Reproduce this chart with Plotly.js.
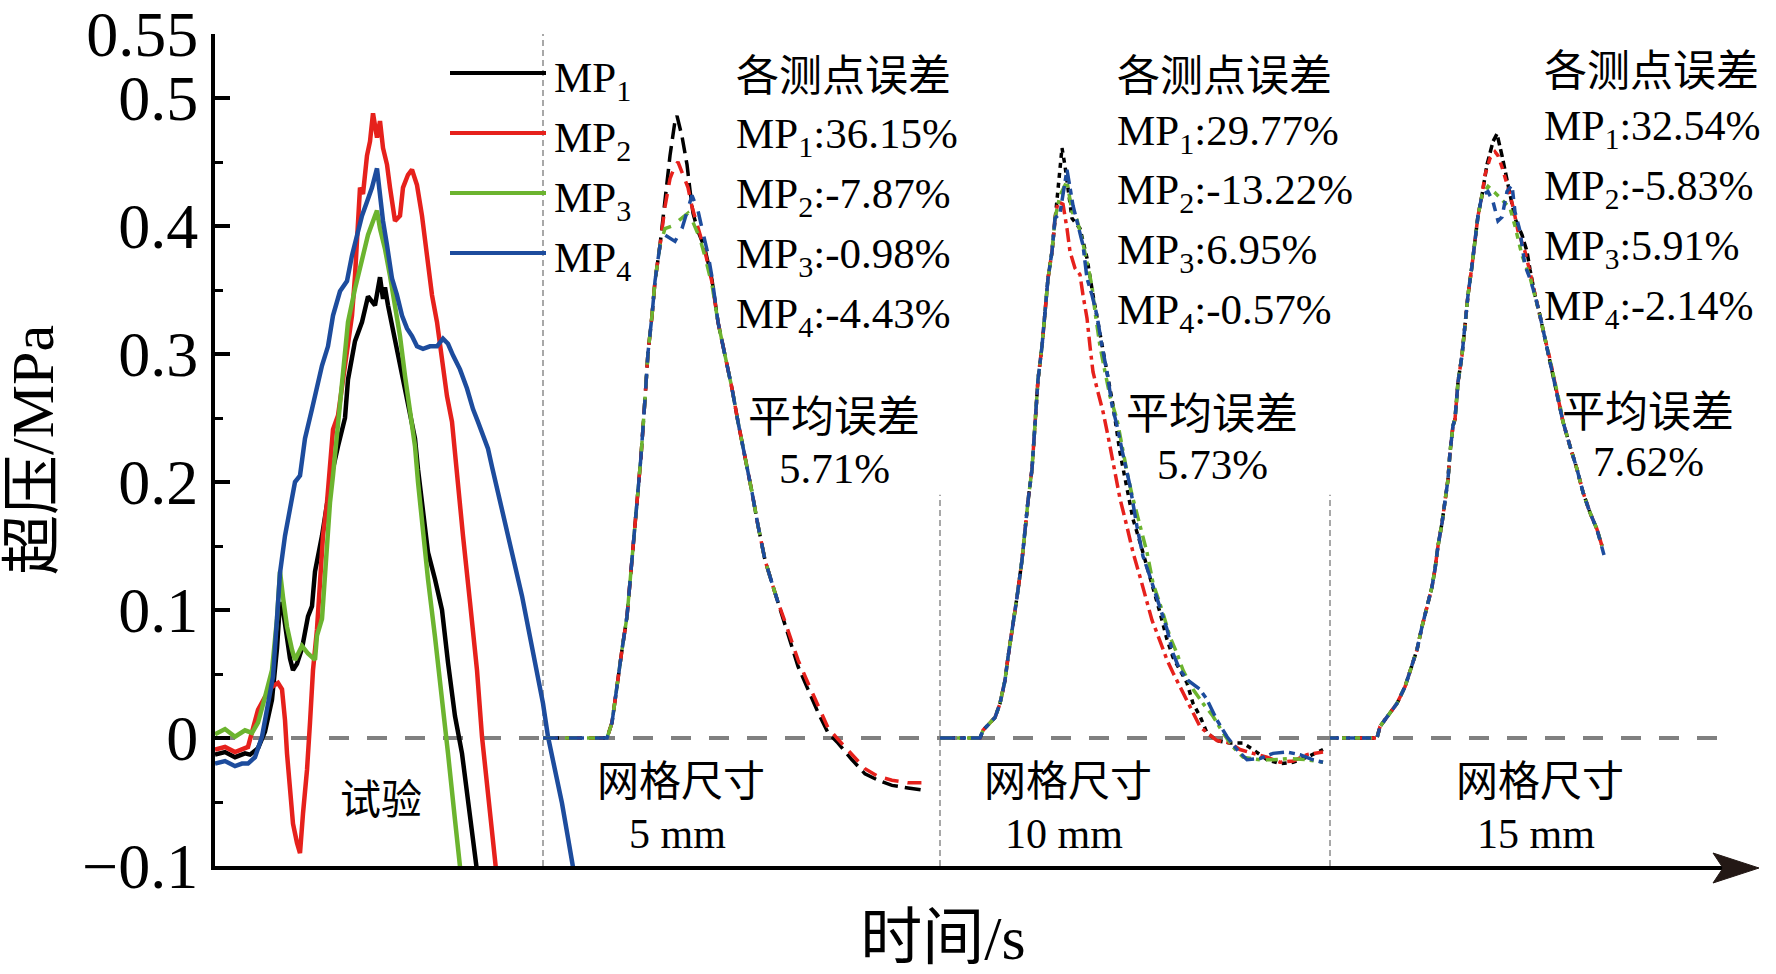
<!DOCTYPE html>
<html>
<head>
<meta charset="utf-8">
<script src="https://cdn.plot.ly/plotly-3.0.1.min.js"></script>
<style>
  html, body { margin: 0; padding: 0; background: #fff; }
  #chart { width: 1776px; height: 974px; }
</style>
</head>
<body>
<div id="chart"></div>
<script>
// ---- test (试验) records, time in arbitrary units ----
var testT_MP1 = [0, 1, 2, 3, 3.5, 4.3, 5.0, 5.7, 6.2, 6.5, 6.8, 7.2, 7.5, 7.8, 8.2, 8.7, 9.0, 9.3, 9.7, 10.0, 10.7, 11.3, 11.7, 12.3, 13.0, 13.3, 14.0, 14.7, 15.3, 16.0, 16.3, 16.5, 16.8, 17.0, 17.3, 18.0, 18.5, 19.2, 20.0, 20.3, 21.3, 22.0, 22.7, 23.3, 24.0, 24.7, 25.3, 26.0, 26.3];
var testV_MP1 = [-0.013, -0.011, -0.015, -0.012, -0.013, -0.008, 0.005, 0.03, 0.07, 0.106, 0.1, 0.075, 0.062, 0.053, 0.058, 0.07, 0.085, 0.095, 0.103, 0.13, 0.158, 0.19, 0.207, 0.228, 0.25, 0.28, 0.31, 0.325, 0.345, 0.338, 0.352, 0.36, 0.343, 0.352, 0.338, 0.31, 0.29, 0.265, 0.234, 0.21, 0.145, 0.124, 0.1, 0.059, 0.017, -0.012, -0.051, -0.096, -0.11];

var testT_MP2 = [0, 1, 2, 3, 3.3, 4.3, 5.0, 5.7, 6.3, 6.7, 7.0, 7.2, 7.5, 7.8, 8.2, 8.5, 8.8, 9.2, 9.5, 9.8, 10.2, 10.5, 10.8, 11.2, 11.5, 11.8, 12.3, 12.8, 13.3, 13.7, 14.0, 14.5, 14.8, 15.2, 15.5, 15.8, 16.2, 16.5, 16.8, 17.2, 17.5, 18.0, 18.5, 18.8, 19.3, 19.7, 20.2, 20.7, 21.2, 21.7, 22.2, 22.7, 23.2, 23.7, 24.0, 24.3, 24.8, 25.5, 26.2, 26.7, 27.2, 27.7, 28.0, 28.2];
var testV_MP2 = [-0.009, -0.007, -0.011, -0.008, -0.007, 0.022, 0.032, 0.04, 0.043, 0.038, 0.014, -0.012, -0.041, -0.067, -0.082, -0.09, -0.059, -0.025, 0.012, 0.053, 0.085, 0.118, 0.158, 0.184, 0.208, 0.241, 0.252, 0.278, 0.306, 0.33, 0.361, 0.43, 0.425, 0.455, 0.466, 0.488, 0.469, 0.482, 0.461, 0.448, 0.43, 0.404, 0.408, 0.43, 0.44, 0.444, 0.432, 0.408, 0.377, 0.346, 0.325, 0.294, 0.267, 0.247, 0.22, 0.194, 0.158, 0.106, 0.053, 0.001, -0.038, -0.078, -0.101, -0.11];

var testT_MP3 = [0, 1, 2, 3, 3.7, 4.3, 5.0, 5.7, 6.2, 6.5, 6.8, 7.2, 7.7, 8.0, 8.7, 9.3, 10.0, 10.2, 10.7, 11.0, 11.5, 11.8, 12.3, 12.8, 13.3, 14.0, 14.7, 15.3, 16.0, 16.2, 16.5, 17.0, 17.5, 18.0, 18.5, 19.0, 19.5, 20.0, 20.3, 20.8, 21.3, 22.0, 22.7, 23.3, 24.0, 24.5, 24.7];
var testV_MP3 = [0.003, 0.007, 0.001, 0.006, 0.004, 0.012, 0.032, 0.053, 0.093, 0.13, 0.11, 0.087, 0.069, 0.061, 0.072, 0.066, 0.061, 0.08, 0.093, 0.132, 0.184, 0.205, 0.247, 0.29, 0.325, 0.351, 0.372, 0.393, 0.408, 0.412, 0.398, 0.382, 0.361, 0.338, 0.314, 0.283, 0.257, 0.228, 0.2, 0.158, 0.124, 0.079, 0.032, -0.012, -0.064, -0.101, -0.115];

var testT_MP4 = [0, 1, 2, 2.7, 3.3, 4.0, 4.7, 5.3, 5.8, 6.2, 6.5, 7.0, 7.5, 8.0, 8.5, 9.0, 9.7, 10.2, 10.7, 11.3, 11.8, 12.5, 13.2, 13.7, 14.2, 14.7, 15.2, 15.7, 16.2, 16.5, 16.8, 17.2, 17.7, 18.2, 18.7, 19.2, 19.7, 20.2, 20.8, 21.5, 22.2, 22.8, 23.3, 23.8, 24.5, 25.2, 25.8, 26.3, 26.8, 27.3, 27.7, 28.7, 29.3, 30.0, 30.7, 31.5, 32.2, 32.8, 33.3, 34.0, 34.7, 35.3, 35.8, 36.0];
var testV_MP4 = [-0.02, -0.018, -0.022, -0.02, -0.02, -0.015, 0.001, 0.027, 0.048, 0.093, 0.129, 0.158, 0.179, 0.2, 0.205, 0.234, 0.257, 0.273, 0.291, 0.306, 0.33, 0.349, 0.357, 0.377, 0.393, 0.408, 0.419, 0.43, 0.445, 0.424, 0.404, 0.385, 0.359, 0.346, 0.33, 0.32, 0.314, 0.306, 0.304, 0.306, 0.306, 0.312, 0.308, 0.299, 0.288, 0.273, 0.257, 0.247, 0.236, 0.226, 0.212, 0.179, 0.158, 0.137, 0.111, 0.079, 0.053, 0.027, 0.001, -0.025, -0.051, -0.078, -0.101, -0.11];

// ---- mesh 5 mm ----
var rise5T = [32.8, 36, 39.2, 39.7, 40.2, 40.7, 41.2, 41.5, 41.8, 42.2, 42.6, 43.0, 43.3, 43.7, 44.0, 44.5];
var rise5V = [0, 0, 0, 0.012, 0.043, 0.069, 0.095, 0.121, 0.147, 0.187, 0.22, 0.265, 0.301, 0.33, 0.357, 0.385];
var peak5T_MP1 = [45.0, 45.5, 46.0, 46.2, 46.7, 47.2, 47.5, 47.8, 48.3, 49.0, 49.7];
var peak5V_MP1 = [0.422, 0.455, 0.482, 0.486, 0.47, 0.448, 0.428, 0.41, 0.396, 0.382, 0.358];
var peak5T_MP2 = [45.0, 45.5, 46.0, 46.3, 46.8, 47.3, 47.7, 48.3, 49.0, 49.7];
var peak5V_MP2 = [0.415, 0.437, 0.447, 0.45, 0.44, 0.43, 0.415, 0.398, 0.38, 0.356];
var peak5T_MP3 = [45.0, 45.7, 46.3, 47.3, 47.8, 48.5, 49.0, 49.7];
var peak5V_MP3 = [0.398, 0.4, 0.404, 0.41, 0.403, 0.39, 0.376, 0.354];
var peak5T_MP4 = [45.0, 46.0, 46.7, 47.7, 48.3, 48.7, 49.3, 49.7];
var peak5V_MP4 = [0.393, 0.388, 0.398, 0.424, 0.412, 0.398, 0.378, 0.36];
var fall5T = [50.3, 51.0, 51.7, 52.3, 53.0, 53.7, 54.3, 55.0, 55.7, 56.3];
var fall5V = [0.325, 0.299, 0.273, 0.247, 0.22, 0.192, 0.166, 0.139, 0.121, 0.106];
var tail5T = [57.0, 57.7, 58.3, 59.3, 60.3, 61.3, 62.3, 63.7, 65.0, 66.3, 67.7, 69.3, 71.0];
var tail5V_MP1 = [0.087, 0.069, 0.056, 0.038, 0.02, 0.004, -0.004, -0.017, -0.028, -0.033, -0.037, -0.039, -0.041];
var tail5V_MP2 = [0.091, 0.074, 0.061, 0.043, 0.025, 0.008, -0.001, -0.013, -0.024, -0.03, -0.033, -0.035, -0.035];

// ---- mesh 10 mm ----
var rise10T = [72.5, 76.5, 76.8, 78.0, 78.5, 79.0, 79.3, 79.8, 80.2, 80.7, 81.0, 81.3, 81.7, 82.0, 82.3, 82.7, 83.0, 83.3, 83.7, 84.0];
var rise10V = [0, 0, 0.006, 0.016, 0.027, 0.045, 0.063, 0.087, 0.11, 0.139, 0.165, 0.185, 0.21, 0.249, 0.28, 0.306, 0.333, 0.359, 0.38, 0.406];
var after10T_MP1 = [84.3, 84.7, 85.0, 85.3, 85.7, 86.5, 87.2, 87.8, 88.5, 89.2, 89.8, 90.5, 91.2, 91.8, 92.5, 93.2, 93.8, 94.5, 95.2, 95.8, 96.5, 97.2, 97.8, 98.5, 99.2, 100.2, 101.5, 102.8, 103.8, 105.2, 106.5, 107.8, 109.2, 110.8];
var after10V_MP1 = [0.43, 0.461, 0.447, 0.43, 0.406, 0.398, 0.375, 0.346, 0.317, 0.286, 0.26, 0.223, 0.194, 0.171, 0.153, 0.134, 0.116, 0.098, 0.077, 0.063, 0.053, 0.043, 0.027, 0.017, 0.004, -0.002, -0.004, -0.004, -0.009, -0.017, -0.02, -0.019, -0.015, -0.009];
var after10T_MP2 = [84.3, 84.8, 85.2, 85.5, 86.0, 86.5, 86.8, 87.2, 87.5, 87.8, 88.3, 88.8, 89.3, 89.8, 90.5, 91.2, 91.8, 92.5, 93.2, 93.7, 94.2, 94.7, 95.2, 95.8, 96.5, 97.2, 97.8, 98.5, 99.2, 100.2, 101.5, 102.5, 103.8, 105.2, 106.5, 107.8, 109.2, 110.8];
var after10V_MP2 = [0.419, 0.417, 0.398, 0.38, 0.367, 0.362, 0.346, 0.328, 0.306, 0.286, 0.27, 0.255, 0.236, 0.215, 0.187, 0.165, 0.145, 0.126, 0.106, 0.092, 0.082, 0.071, 0.061, 0.051, 0.04, 0.03, 0.02, 0.009, 0.004, -0.002, -0.004, -0.009, -0.012, -0.015, -0.019, -0.018, -0.013, -0.011];
var after10T_MP3 = [84.5, 85.2, 85.7, 86.2, 86.7, 87.2, 87.7, 88.0, 88.5, 89.0, 89.5, 90.2, 90.7, 91.2, 91.7, 92.3, 93.2, 93.8, 94.7, 95.5, 96.2, 96.8, 97.8, 98.8, 99.8, 100.8, 101.8, 102.8, 104.5, 105.8, 107.5, 109.2, 110.8];
var after10V_MP3 = [0.424, 0.435, 0.411, 0.405, 0.39, 0.372, 0.353, 0.333, 0.306, 0.286, 0.267, 0.249, 0.228, 0.208, 0.19, 0.171, 0.145, 0.121, 0.1, 0.079, 0.066, 0.053, 0.038, 0.027, 0.017, 0.004, -0.007, -0.015, -0.017, -0.017, -0.016, -0.017, -0.019];
var after10T_MP4 = [84.5, 85.2, 85.5, 85.8, 86.8, 87.2, 87.7, 88.2, 88.7, 89.2, 89.7, 90.2, 90.7, 91.5, 92.2, 92.8, 93.5, 94.3, 95.2, 95.8, 96.5, 97.3, 98.5, 99.2, 100.2, 101.2, 102.2, 103.2, 104.5, 105.8, 107.2, 108.5, 109.8, 110.8];
var after10V_MP4 = [0.41, 0.444, 0.43, 0.416, 0.385, 0.359, 0.346, 0.33, 0.306, 0.286, 0.26, 0.244, 0.225, 0.197, 0.165, 0.142, 0.126, 0.106, 0.085, 0.066, 0.053, 0.045, 0.038, 0.03, 0.014, 0.001, -0.009, -0.017, -0.016, -0.012, -0.011, -0.013, -0.017, -0.019];

// ---- mesh 15 mm ----
var rise15T = [111.5, 116.2, 116.5, 117.3, 118.2, 119.0, 119.7, 120.2, 120.7, 121.2, 121.7, 122.0, 122.3, 122.7, 123.0, 123.3, 123.5, 123.8, 124.0, 124.3, 124.7, 125.0, 125.3, 125.7, 126.0, 126.3, 126.7];
var rise15V = [0, 0, 0.009, 0.017, 0.027, 0.04, 0.056, 0.069, 0.087, 0.103, 0.118, 0.132, 0.15, 0.168, 0.184, 0.202, 0.223, 0.244, 0.249, 0.278, 0.299, 0.322, 0.346, 0.369, 0.39, 0.408, 0.424];
var peak15T_MP1 = [127.2, 127.8, 128.2, 128.7, 129.0, 129.5, 130.0, 130.7, 131.2, 131.5];
var peak15V_MP1 = [0.448, 0.466, 0.472, 0.455, 0.443, 0.424, 0.406, 0.393, 0.38, 0.366];
var peak15T_MP2 = [127.0, 127.5, 128.0, 128.3, 128.7, 129.3, 129.8, 130.3, 131.0, 131.5];
var peak15V_MP2 = [0.44, 0.453, 0.458, 0.455, 0.446, 0.43, 0.415, 0.396, 0.38, 0.364];
var peak15T_MP3 = [127.3, 128.0, 128.5, 129.0, 129.5, 130.0, 130.7, 131.5];
var peak15V_MP3 = [0.431, 0.426, 0.422, 0.418, 0.414, 0.4, 0.377, 0.36];
var peak15T_MP4 = [127.3, 127.8, 128.3, 128.7, 129.2, 129.7, 130.0, 130.5, 131.0, 131.5];
var peak15V_MP4 = [0.427, 0.419, 0.404, 0.407, 0.427, 0.432, 0.411, 0.396, 0.369, 0.359];
var fall15T = [132.0, 132.5, 133.0, 133.5, 134.0, 134.5, 134.8, 135.5, 136.2, 136.8, 137.5, 138.2, 138.7];
var fall15V = [0.346, 0.33, 0.312, 0.296, 0.278, 0.26, 0.247, 0.228, 0.21, 0.192, 0.176, 0.163, 0.15];

var seriesNames = ['MP1', 'MP2', 'MP3', 'MP4'];
var seriesColors = ['#000000', '#e6211c', '#6cb42f', '#1d4c9d'];
var yTickVals = [-0.1, 0, 0.1, 0.2, 0.3, 0.4, 0.5, 0.55];
var yTickText = ['\u22120.1', '0', '0.1', '0.2', '0.3', '0.4', '0.5', '0.55'];
var yMinorVals = [-0.05, 0.05, 0.15, 0.25, 0.35, 0.45];
var separatorT = [32.8, 72.5, 111.5];
var err5 = ['36.15%', '-7.87%', '-0.98%', '-4.43%'];
var err10 = ['29.77%', '-13.22%', '6.95%', '-0.57%'];
var err15 = ['32.54%', '-5.83%', '5.91%', '-2.14%'];
var avgErr = ['5.71%', '5.73%', '7.62%'];
var meshSizes = ['5 mm', '10 mm', '15 mm'];

// pixel helpers (plot area 215..1671 x 34..866)
function px(x) { return (x - 215) / 1456; }
function py(y) { return (866 - y) / 832; }

var SERIF = 'Liberation Serif, Noto Sans CJK SC, serif';

function lineTrace(xs, ys, i, dash, width) {
  return {
    x: xs, y: ys, type: 'scatter', mode: 'lines',
    name: seriesNames[i], showlegend: false, hoverinfo: 'skip',
    line: { color: seriesColors[i], width: width || 3.5, dash: dash || 'solid' }
  };
}

var traces = [];
var testT = [testT_MP1, testT_MP2, testT_MP3, testT_MP4];
var testV = [testV_MP1, testV_MP2, testV_MP3, testV_MP4];
for (var i = 0; i < 4; i++) {
  traces.push(lineTrace(testT[i], testV[i], i, 'solid', 4.5));
}

// 5 mm  (slightly different dash lengths so the colours interleave)
var dash5 = ['16px,7px', '14px,9px', '12px,10px', '15px,11px'];
traces.push(lineTrace(rise5T.concat(peak5T_MP1, fall5T, tail5T), rise5V.concat(peak5V_MP1, fall5V, tail5V_MP1), 0, dash5[0]));
traces.push(lineTrace(rise5T.concat(peak5T_MP2, fall5T, tail5T), rise5V.concat(peak5V_MP2, fall5V, tail5V_MP2), 1, dash5[1]));
traces.push(lineTrace(rise5T.concat(peak5T_MP3, fall5T), rise5V.concat(peak5V_MP3, fall5V), 2, dash5[2]));
traces.push(lineTrace(rise5T.concat(peak5T_MP4, fall5T), rise5V.concat(peak5V_MP4, fall5V), 3, dash5[3]));

// 10 mm
var after10T = [after10T_MP1, after10T_MP2, after10T_MP3, after10T_MP4];
var after10V = [after10V_MP1, after10V_MP2, after10V_MP3, after10V_MP4];
var dash10 = ['5px,5px', '14px,5px,4px,5px', '12px,5px,4px,6px', '15px,5px,6px,5px'];
for (var i = 0; i < 4; i++) {
  traces.push(lineTrace(rise10T.concat(after10T[i]), rise10V.concat(after10V[i]), i, dash10[i]));
}

// 15 mm
var peak15T = [peak15T_MP1, peak15T_MP2, peak15T_MP3, peak15T_MP4];
var peak15V = [peak15V_MP1, peak15V_MP2, peak15V_MP3, peak15V_MP4];
var dash15 = ['8px,4px', '7px,6px', '6px,6px', '9px,7px'];
for (var i = 0; i < 4; i++) {
  var ft = fall15T.slice(), fv = fall15V.slice();
  if (i === 3) { ft.push(138.9); fv.push(0.143); }
  traces.push(lineTrace(rise15T.concat(peak15T[i], ft), rise15V.concat(peak15V[i], fv), i, dash15[i]));
}

// ---- shapes ----
var shapes = [];
// zero reference line
shapes.push({ type: 'line', xref: 'paper', yref: 'y', x0: 0, x1: px(1730), y0: 0, y1: 0,
  line: { color: '#808080', width: 4, dash: '20px,18px' }, layer: 'below' });
// panel separators
separatorT.forEach(function (t, k) {
  shapes.push({ type: 'line', xref: 'x', yref: 'y', x0: t, x1: t, y0: -0.1, y1: k === 0 ? 0.55 : 0.19,
    line: { color: '#8c8c8c', width: 1.5, dash: '6px,4px' }, layer: 'below' });
});
// x axis extension + arrow head
shapes.push({ type: 'line', xref: 'paper', yref: 'paper', x0: 0.99, x1: px(1735), y0: -2 / 832, y1: -2 / 832,
  line: { color: '#000', width: 4 } });
var ay = -2 / 832;
shapes.push({ type: 'path', xref: 'paper', yref: 'paper',
  path: 'M ' + px(1759) + ' ' + ay + ' L ' + px(1713) + ' ' + (ay + 15 / 832) + ' L ' + px(1723) + ' ' + ay +
        ' L ' + px(1713) + ' ' + (ay - 15 / 832) + ' Z',
  fillcolor: '#231815', line: { color: '#231815', width: 1 } });
// legend samples
var legendY = [73, 133, 193, 253];
legendY.forEach(function (y, i) {
  shapes.push({ type: 'line', xref: 'paper', yref: 'paper', x0: px(450), x1: px(546), y0: py(y), y1: py(y),
    line: { color: seriesColors[i], width: 4 } });
});

// ---- annotations ----
var annotations = [];
function note(text, x, y, anchor, size) {
  annotations.push({ text: text, xref: 'paper', yref: 'paper', x: px(x), y: py(y),
    xanchor: anchor || 'left', yanchor: 'middle', showarrow: false, borderpad: 0,
    font: { family: SERIF, size: size || 43, color: '#000' } });
}
legendY.forEach(function (y, i) { note('MP<sub>' + (i + 1) + '</sub>', 553, y + 8); });

var groupX = [735, 1116, 1543];
var groupTitleY = [76, 76, 71];
var groupRowY = [[129, 189, 249, 309], [126, 185, 245, 305], [121, 181, 241, 301]];
var groupErr = [err5, err10, err15];
for (var g = 0; g < 3; g++) {
  note('各测点误差', groupX[g], groupTitleY[g]);
  for (var i = 0; i < 4; i++) {
    note('MP<sub>' + (i + 1) + '</sub>:' + groupErr[g][i], groupX[g], groupRowY[g][i] + 8, 'left', g === 2 ? 42 : 43);
  }
}
var avgX = [834, 1212, 1648];
var avgTitleY = [417, 414, 412];
var avgValY = [468, 464, 461];
for (var g = 0; g < 3; g++) {
  note('平均误差', avgX[g], avgTitleY[g], 'center');
  note(avgErr[g], avgX[g], avgValY[g], 'center');
}
note('试验', 381, 800, 'center', 41);
var meshX = [681, 1068, 1540];
for (var g = 0; g < 3; g++) {
  note('网格尺寸', meshX[g], 782, 'center', 42);
  note(meshSizes[g], meshX[g] - 4, 834, 'center', 42);
}

var layout = {
  width: 1776, height: 974,
  margin: { l: 215, r: 105, t: 34, b: 108, pad: 0 },
  paper_bgcolor: '#fff', plot_bgcolor: '#fff',
  showlegend: false,
  xaxis: {
    range: [0, 145.6], showline: true, linewidth: 4, linecolor: '#000',
    showticklabels: false, ticks: '', showgrid: false, zeroline: false,
    title: { text: '时间/s', font: { family: SERIF, size: 62, color: '#000' }, standoff: 48 }
  },
  yaxis: {
    range: [-0.1, 0.55], showline: true, linewidth: 4, linecolor: '#000',
    tickmode: 'array', tickvals: yTickVals, ticktext: yTickText,
    ticks: 'inside', ticklen: 15, tickwidth: 4, tickcolor: '#000',
    ticklabelstandoff: 0, ticklabeloverflow: 'allow',
    minor: { tickmode: 'array', tickvals: yMinorVals, ticks: 'inside', ticklen: 8, tickwidth: 3, tickcolor: '#000' },
    tickfont: { family: SERIF, size: 64, color: '#000' },
    showgrid: false, zeroline: false,
    title: { text: '超压/MPa', font: { family: SERIF, size: 60, color: '#000' }, standoff: 30 }
  },
  shapes: shapes,
  annotations: annotations
};

Plotly.newPlot('chart', traces, layout, { displayModeBar: false, staticPlot: true });
</script>
</body>
</html>
